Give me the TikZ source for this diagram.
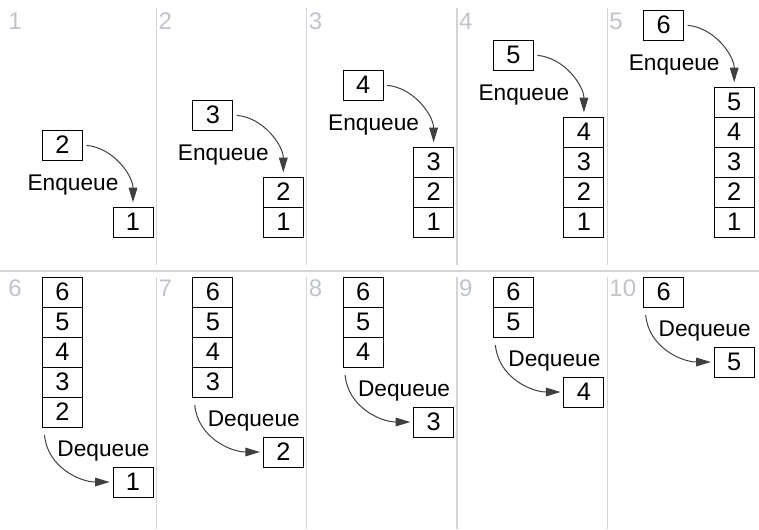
\documentclass[tikz,border=0pt]{standalone}
\usepackage{fontspec}
\setmainfont{Liberation Sans}
\usetikzlibrary{positioning,arrows.meta}
\definecolor{sepgray}{RGB}{212,212,212}
\definecolor{numgray}{RGB}{192,195,202}

\begin{document}
\begin{tikzpicture}[x=0.75pt, y=-0.75pt,
    elem/.style = {draw, line width=0.75pt, minimum width=30pt, minimum height=22.5pt,
                   inner sep=0pt, outer sep=0pt, font=\fontsize{19}{19}\selectfont},
    lbl/.style = {inner sep=0pt, font=\fontsize{17}{17}\selectfont},
    num/.style = {anchor=west, inner sep=0pt, text=numgray, font=\fontsize{18}{18}\selectfont},
    sep/.style = {draw=sepgray, line width=0.9pt},
    qarrow/.style = {draw=black!75, line width=0.75pt, -{Triangle[length=11pt,width=6.5pt]}}]
    \useasboundingbox (0,0) rectangle (759,529);

    % panel frames
    \draw[sep] (0,271) -- (759,271);
    \draw[sep] (156.3,8) -- (156.3,265);  \draw[sep] (156.3,277) -- (156.3,529);
    \draw[sep] (306.6,8) -- (306.6,265);  \draw[sep] (306.6,277) -- (306.6,529);
    \draw[sep] (456.9,8) -- (456.9,265);  \draw[sep] (456.9,277) -- (456.9,529);
    \draw[sep] (607.2,8) -- (607.2,265);  \draw[sep] (607.2,277) -- (607.2,529);

    % step numbers
    \node[num] (t1) at (8,21) {1};
    \node[num] (t2) at (158.3,21) {2};
    \node[num] (t3) at (308.6,21) {3};
    \node[num] (t4) at (458.9,21) {4};
    \node[num] (t5) at (609.2,21) {5};
    \node[num] (t6) at (8,288) {6};
    \node[num] (t7) at (158.3,288) {7};
    \node[num] (t8) at (308.6,288) {8};
    \node[num] (t9) at (458.9,288) {9};
    \node[num] (t10) at (609.2,288) {10};

    % step 1
    \node[elem] (a1-1) at (133,222) {1};
    \node[elem] (a1-new) at (62.5,145) {2};
    \node[lbl] (a1-lbl) at (73,185) {Enqueue};
    \draw[qarrow, shorten <=3pt, shorten >=3.5pt] (a1-new.east) to[out=-5, in=90] (a1-1.north);

    % step 2
    \node[elem] (a2-1) at (283.3,222) {1};
    \node[elem] (a2-2) [above=0pt of a2-1] {2};
    \node[elem] (a2-new) at (212.8,115) {3};
    \node[lbl] (a2-lbl) at (223.3,155) {Enqueue};
    \draw[qarrow, shorten <=3pt, shorten >=3.5pt] (a2-new.east) to[out=-5, in=90] (a2-2.north);

    % step 3
    \node[elem] (a3-1) at (433.6,222) {1};
    \node[elem] (a3-2) [above=0pt of a3-1] {2};
    \node[elem] (a3-3) [above=0pt of a3-2] {3};
    \node[elem] (a3-new) at (363.1,85) {4};
    \node[lbl] (a3-lbl) at (373.6,125) {Enqueue};
    \draw[qarrow, shorten <=3pt, shorten >=3.5pt] (a3-new.east) to[out=-5, in=90] (a3-3.north);

    % step 4
    \node[elem] (a4-1) at (583.9,222) {1};
    \node[elem] (a4-2) [above=0pt of a4-1] {2};
    \node[elem] (a4-3) [above=0pt of a4-2] {3};
    \node[elem] (a4-4) [above=0pt of a4-3] {4};
    \node[elem] (a4-new) at (513.4,55) {5};
    \node[lbl] (a4-lbl) at (523.9,95) {Enqueue};
    \draw[qarrow, shorten <=3pt, shorten >=3.5pt] (a4-new.east) to[out=-5, in=90] (a4-4.north);

    % step 5
    \node[elem] (a5-1) at (734.2,222) {1};
    \node[elem] (a5-2) [above=0pt of a5-1] {2};
    \node[elem] (a5-3) [above=0pt of a5-2] {3};
    \node[elem] (a5-4) [above=0pt of a5-3] {4};
    \node[elem] (a5-5) [above=0pt of a5-4] {5};
    \node[elem] (a5-new) at (663.7,25) {6};
    \node[lbl] (a5-lbl) at (674.2,65) {Enqueue};
    \draw[qarrow, shorten <=3pt, shorten >=3.5pt] (a5-new.east) to[out=-5, in=90] (a5-5.north);

    % step 6
    \node[elem] (b6-6) at (62.5,292) {6};
    \node[elem] (b6-5) [below=0pt of b6-6] {5};
    \node[elem] (b6-4) [below=0pt of b6-5] {4};
    \node[elem] (b6-3) [below=0pt of b6-4] {3};
    \node[elem] (b6-2) [below=0pt of b6-3] {2};
    \node[elem] (b6-out) at (133,482) {1};
    \node[lbl] (b6-lbl) at (103.5,451) {Dequeue};
    \draw[qarrow, shorten >=2.5pt] ([xshift=1.5pt,yshift=-6pt]b6-2.south west) to[out=-85, in=180] (b6-out.west);

    % step 7
    \node[elem] (b7-6) at (212.8,292) {6};
    \node[elem] (b7-5) [below=0pt of b7-6] {5};
    \node[elem] (b7-4) [below=0pt of b7-5] {4};
    \node[elem] (b7-3) [below=0pt of b7-4] {3};
    \node[elem] (b7-out) at (283.3,452) {2};
    \node[lbl] (b7-lbl) at (253.8,421) {Dequeue};
    \draw[qarrow, shorten >=2.5pt] ([xshift=1.5pt,yshift=-6pt]b7-3.south west) to[out=-85, in=180] (b7-out.west);

    % step 8
    \node[elem] (b8-6) at (363.1,292) {6};
    \node[elem] (b8-5) [below=0pt of b8-6] {5};
    \node[elem] (b8-4) [below=0pt of b8-5] {4};
    \node[elem] (b8-out) at (433.6,422) {3};
    \node[lbl] (b8-lbl) at (404.1,391) {Dequeue};
    \draw[qarrow, shorten >=2.5pt] ([xshift=1.5pt,yshift=-6pt]b8-4.south west) to[out=-85, in=180] (b8-out.west);

    % step 9
    \node[elem] (b9-6) at (513.4,292) {6};
    \node[elem] (b9-5) [below=0pt of b9-6] {5};
    \node[elem] (b9-out) at (583.9,392) {4};
    \node[lbl] (b9-lbl) at (554.4,361) {Dequeue};
    \draw[qarrow, shorten >=2.5pt] ([xshift=1.5pt,yshift=-6pt]b9-5.south west) to[out=-85, in=180] (b9-out.west);

    % step 10
    \node[elem] (b10-6) at (663.7,292) {6};
    \node[elem] (b10-out) at (734.2,362) {5};
    \node[lbl] (b10-lbl) at (704.7,331) {Dequeue};
    \draw[qarrow, shorten >=2.5pt] ([xshift=1.5pt,yshift=-6pt]b10-6.south west) to[out=-85, in=180] (b10-out.west);
\end{tikzpicture}
\end{document}
